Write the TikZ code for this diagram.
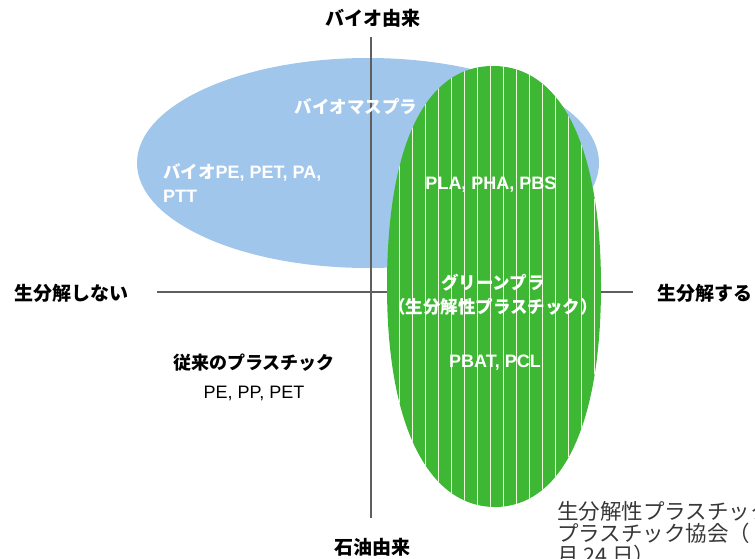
\documentclass[tikz,border=0pt]{standalone}
\usepackage{fontspec}
\setmainfont{Noto Sans CJK JP}
\newfontfamily\lsans{Liberation Sans}
\usepackage{tikz}
\usetikzlibrary{positioning}
\definecolor{colorBio}{RGB}{160,198,235}
\definecolor{colorGreen}{RGB}{62,184,52}
\definecolor{colorStripe}{RGB}{238,250,218}
\definecolor{colorAxis}{RGB}{95,95,95}
\definecolor{colorNote}{RGB}{55,55,55}
\tikzset{
  axis/.style={colorAxis, line width=1.3pt},
  stripe/.style={colorStripe, line width=1pt},
  axislabel/.style={font=\fontsize{19}{22}\selectfont\bfseries, inner sep=0pt},
  inlabel/.style={font=\fontsize{17.5}{24}\selectfont\bfseries, text=white, inner sep=0pt, align=center},
  oldlabel/.style={font=\fontsize{18}{21}\selectfont, inner sep=0pt},
  note/.style={font=\fontsize{21.5}{22}\selectfont, text=colorNote, inner sep=0pt, align=left, anchor=north west}
}

\begin{document}
\begin{tikzpicture}[x=1pt, y=-1pt]
\useasboundingbox (0,0) rectangle (755,559);
\clip (0,0) rectangle (755,559);
\fill[colorBio] (368,163) ellipse [x radius=231, y radius=105];
\node[axislabel] (bio) at (373,18) {バイオ由来};
\node[axislabel] (oil) at (372,547) {石油由来};
\node[axislabel] (nodeg) at (71,293) {生分解しない};
\node[axislabel, anchor=west] (deg) at (657,293) {生分解する};
\coordinate (vtop) at (371,37);
\coordinate (vbot) at (371,518);
\coordinate (hleft) at (157,292);
\coordinate (hright) at (633,292);
\draw[axis] (vtop) -- (vbot);
\draw[axis] (hleft) -- (hright);
\fill[colorGreen, path picture={
  \foreach \i in {0,...,15} \draw[stripe] (399+13*\i,50) -- (399+13*\i,530);
}] (493,66) .. controls (563,66) and (601,150) .. (601,286)
  .. controls (601,435) and (557,507) .. (495,507)
  .. controls (433,507) and (387,435) .. (387,286)
  .. controls (387,150) and (423,66) .. (493,66) -- cycle;
\node[inlabel] (biomass) at (356,107) {バイオマスプラ};
\node[inlabel, align=left, anchor=west] (biope) at (163,183) {バイオ{\lsans\fontsize{18}{24}\selectfont PE, PET, PA,}\\{\lsans\fontsize{18}{24}\selectfont PTT}};
\node[inlabel, font=\lsans\fontsize{18}{24}\selectfont\bfseries] (pla) at (491,185) {PLA, PHA, PBS};
\node[inlabel] (greenpla) at (493,295) {グリーンプラ\\（生分解性プラスチック）};
\node[inlabel, font=\lsans\fontsize{18}{24}\selectfont\bfseries] (pbat) at (495,363) {PBAT, PCL};
\node[oldlabel, font=\fontsize{18}{21}\selectfont\bfseries] (conv) at (254,363) {従来のプラスチック};
\node[oldlabel, font=\lsans\fontsize{18}{21}\selectfont, below=14pt of conv] (convlist) {PE, PP, PET};
\node[note] (source) at (557,501) {生分解性プラスチック\\プラスチック協会（\\月 24 日）};
\end{tikzpicture}
\end{document}
